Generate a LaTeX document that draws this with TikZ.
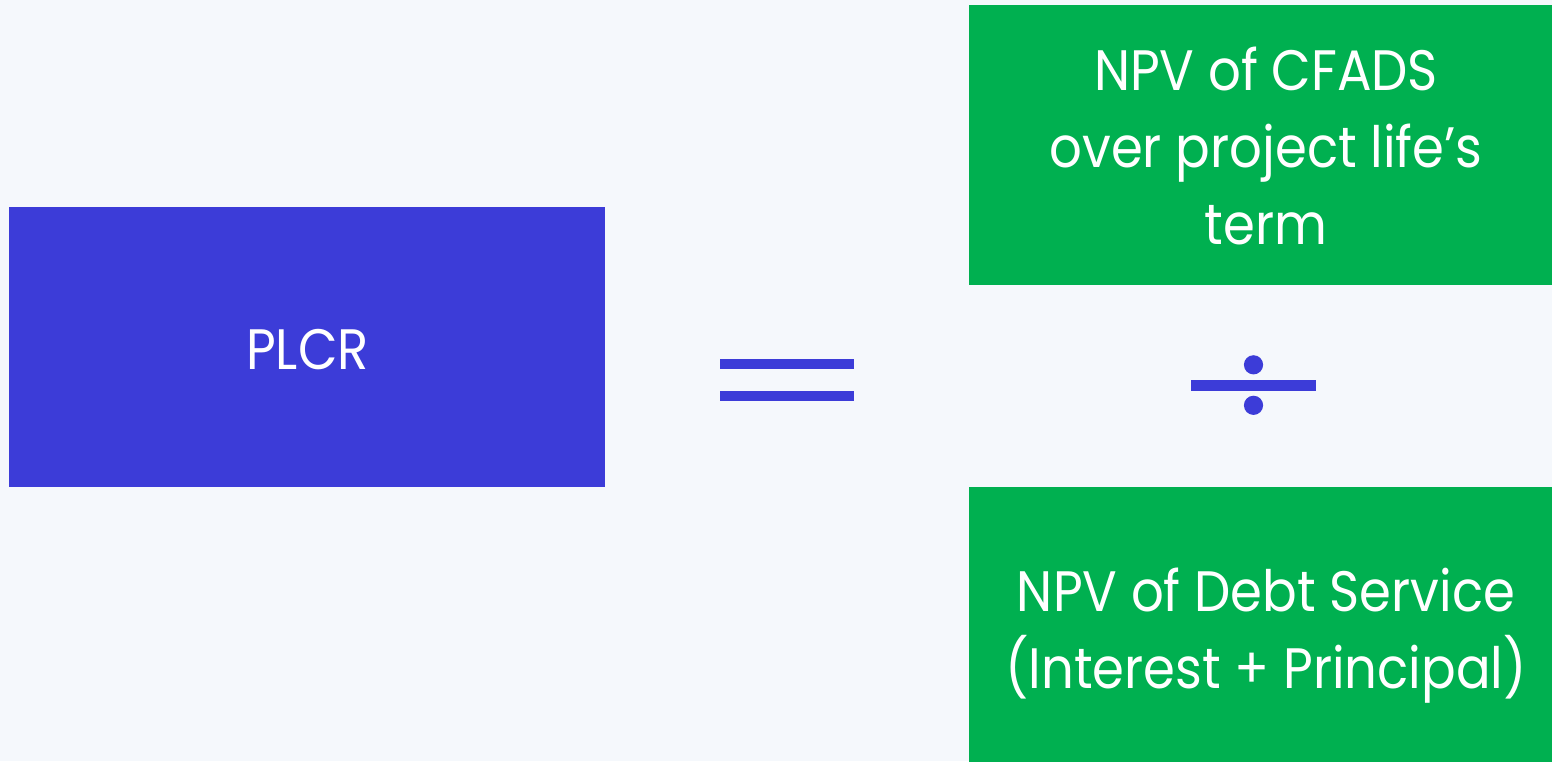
\documentclass[tikz,border=0pt]{standalone}
\usepackage{fontspec}
\setmainfont{Poppins}[FakeStretch=0.9]
\definecolor{bg}{HTML}{F5F8FC}
\definecolor{plcrblue}{HTML}{3C3CD8}
\definecolor{boxgreen}{HTML}{00B050}
\begin{document}
\begin{tikzpicture}[x=1pt,y=-1pt,
  lbl/.style={text=white,font=\fontsize{57}{77}\selectfont,inner sep=0pt,anchor=base},
  blk/.style={inner sep=0pt,anchor=north west,draw=none}]
\fill[bg] (0,0) rectangle (1552,761);
\useasboundingbox (0,0) rectangle (1552,761);
\node[blk,fill=plcrblue,minimum width=596,minimum height=280] (plcr) at (9,207) {};
\node[blk,fill=boxgreen,minimum width=594,minimum height=280] (top) at (969,5) {};
\node[blk,fill=boxgreen,minimum width=594,minimum height=290] (bot) at (969,487) {};
\node[lbl] (plcrtxt) at (307.5,369) {PLCR};
\node[lbl] (t1) at (1266,90) {NPV of CFADS};
\node[lbl] (t2) at (1266,167) {over project life’s};
\node[lbl] (t3) at (1266,244) {term};
\node[lbl] (b1) at (1266,611) {NPV of Debt Service};
\node[lbl] (b2) at (1266,688) {(Interest + Principal)};
% equals sign
\fill[plcrblue] (720,359) rectangle (853.5,368.7);
\fill[plcrblue] (720,391) rectangle (853.5,400.7);
% division sign
\fill[plcrblue] (1190.6,380) rectangle (1316,390.7);
\fill[plcrblue] (1253.5,364.8) circle[radius=9.6];
\fill[plcrblue] (1253.5,405.3) circle[radius=9.6];
\end{tikzpicture}
\end{document}
